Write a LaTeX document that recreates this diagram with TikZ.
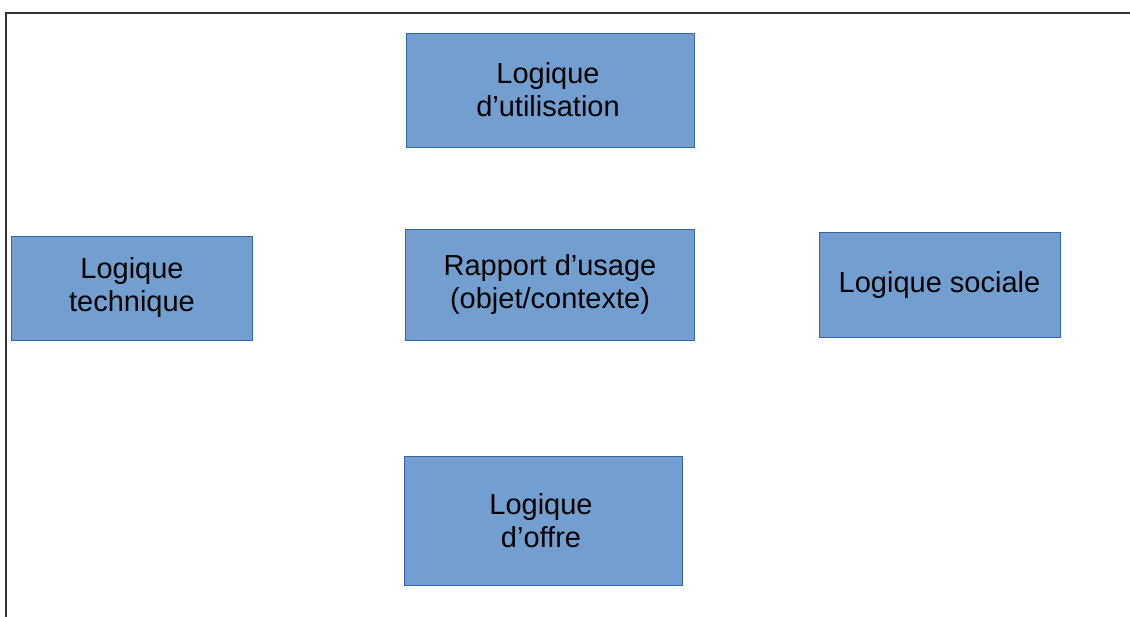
\documentclass[tikz,border=0pt]{standalone}
\usepackage{fontspec}
\setmainfont{Liberation Sans}
\definecolor{boxfill}{HTML}{729FCF}
\definecolor{boxline}{HTML}{3465A4}
\definecolor{frameline}{HTML}{333333}
\begin{document}
\begin{tikzpicture}[x=1pt,y=-1pt,
  box/.style={draw=boxline, line width=0.8pt, fill=boxfill, inner sep=0pt},
  label/.style={inner sep=0pt, align=center, font=\fontsize{29}{33}\selectfont, text=black}]
\useasboundingbox (0,0) rectangle (1130,617);
\draw[frameline, line width=1.4pt] (6,617) -- (6,13) -- (1130,13);
\node[box, minimum width=288pt, minimum height=114pt] (util) at (550,90) {};
\node[box, minimum width=241pt, minimum height=104pt] (tech) at (131.5,288) {};
\node[box, minimum width=289pt, minimum height=111pt] (rapport) at (549.5,284.5) {};
\node[box, minimum width=241pt, minimum height=105pt] (soc) at (939.5,284.5) {};
\node[box, minimum width=278pt, minimum height=129pt] (offre) at (543,520.5) {};
\node[label] (utilt) at (548,90) {Logique\\d’utilisation};
\node[label] (techt) at (132,288) {Logique\\technique};
\node[label] (rapportt) at (550,285) {Rapport d’usage\\(objet/contexte)};
\node[label] (soct) at (939.5,285) {Logique sociale};
\node[label] (offret) at (541,521) {Logique\\d’offre};
\end{tikzpicture}
\end{document}
